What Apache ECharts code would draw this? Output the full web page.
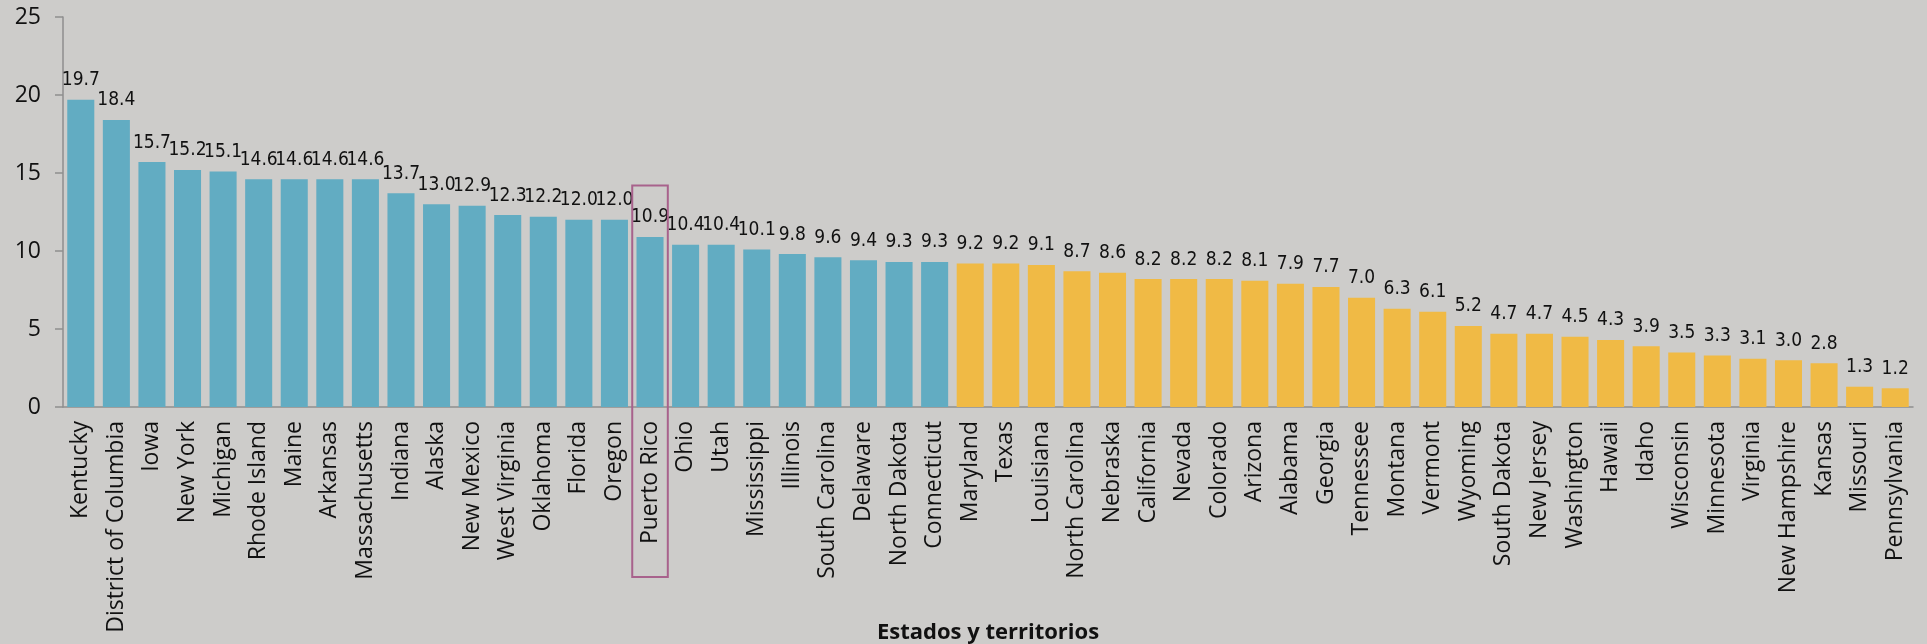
<!DOCTYPE html>
<html>
<head>
<meta charset="utf-8">
<script src="https://cdn.jsdelivr.net/npm/echarts@6/dist/echarts.min.js"></script>
<style>
html,body{margin:0;padding:0;background:#cdccca;}
#chart{width:1927px;height:644px;}
</style>
</head>
<body>
<div id="chart"></div>
<script>
const categories = ["Kentucky","District of Columbia","Iowa","New York","Michigan","Rhode Island","Maine","Arkansas","Massachusetts","Indiana","Alaska","New Mexico","West Virginia","Oklahoma","Florida","Oregon","Puerto Rico","Ohio","Utah","Mississippi","Illinois","South Carolina","Delaware","North Dakota","Connecticut","Maryland","Texas","Louisiana","North Carolina","Nebraska","California","Nevada","Colorado","Arizona","Alabama","Georgia","Tennessee","Montana","Vermont","Wyoming","South Dakota","New Jersey","Washington","Hawaii","Idaho","Wisconsin","Minnesota","Virginia","New Hampshire","Kansas","Missouri","Pennsylvania"];
const values = [19.7,18.4,15.7,15.2,15.1,14.6,14.6,14.6,14.6,13.7,13.0,12.9,12.3,12.2,12.0,12.0,10.9,10.4,10.4,10.1,9.8,9.6,9.4,9.3,9.3,9.2,9.2,9.1,8.7,8.6,8.2,8.2,8.2,8.1,7.9,7.7,7.0,6.3,6.1,5.2,4.7,4.7,4.5,4.3,3.9,3.5,3.3,3.1,3.0,2.8,1.3,1.2];
const blueCount = 25; // Kentucky .. Connecticut
const yTicks = [0,5,10,15,20,25];
const highlighted = "Puerto Rico";
const highlightTop = 14.2;

const BLUE = '#62acc2', YELLOW = '#f0ba45';
const chart = echarts.init(document.getElementById('chart'));
const option = {
  backgroundColor: '#cdccca',
  animation: false,
  grid: {left: 63, right: 14, top: 17, bottom: 237, containLabel: false, outerBoundsMode: 'none'},
  xAxis: {
    type: 'category',
    data: categories,
    name: 'Estados y territorios',
    nameLocation: 'middle',
    nameGap: 215,
    nameMoveOverlap: false,
    nameTextStyle: {fontFamily: 'Open Sans', fontWeight: 'bold', fontSize: 22, color: '#111'},
    axisLine: {lineStyle: {color: '#8e8e8e', width: 1.5}},
    axisTick: {alignWithLabel: true, length: 6, lineStyle: {color: '#8e8e8e', width: 1.5}},
    axisLabel: {rotate: 90, interval: 0, margin: 14, fontFamily: 'Open Sans', fontSize: 23, color: '#111'}
  },
  yAxis: {
    type: 'value',
    min: 0, max: 25, interval: 5,
    axisLine: {show: true, lineStyle: {color: '#8e8e8e', width: 1.5}},
    axisTick: {show: true, length: 8, lineStyle: {color: '#8e8e8e', width: 1.5}},
    splitLine: {show: false},
    axisLabel: {margin: 22, fontFamily: 'Open Sans', fontSize: 23, color: '#111',
      formatter: v => yTicks.includes(v) ? String(v) : ''}
  },
  series: [{
    type: 'bar',
    barCategoryGap: '24%',
    data: values.map((v, i) => ({value: v, itemStyle: {color: i < blueCount ? BLUE : YELLOW}})),
    label: {
      show: true, position: 'top', distance: 10,
      fontStyle: 'condensed',
      fontFamily: "'DejaVu Sans'", fontSize: 19, color: '#111',
      formatter: p => p.value.toFixed(1)
    }
  }]
};
chart.setOption(option);

// highlight box around the Puerto Rico category band
const idx = categories.indexOf(highlighted);
const c0 = chart.convertToPixel({xAxisIndex: 0}, idx);
const c1 = chart.convertToPixel({xAxisIndex: 0}, idx + 1);
const band = c1 - c0;
const yTop = chart.convertToPixel({yAxisIndex: 0}, highlightTop);
const yZero = chart.convertToPixel({yAxisIndex: 0}, 0);
chart.setOption({
  graphic: [{
    type: 'rect',
    shape: {x: c0 - band / 2, y: yTop, width: band, height: (yZero + 170) - yTop},
    style: {fill: 'none', stroke: '#a8628c', lineWidth: 2},
    z: 100
  }]
});
</script>
</body>
</html>
